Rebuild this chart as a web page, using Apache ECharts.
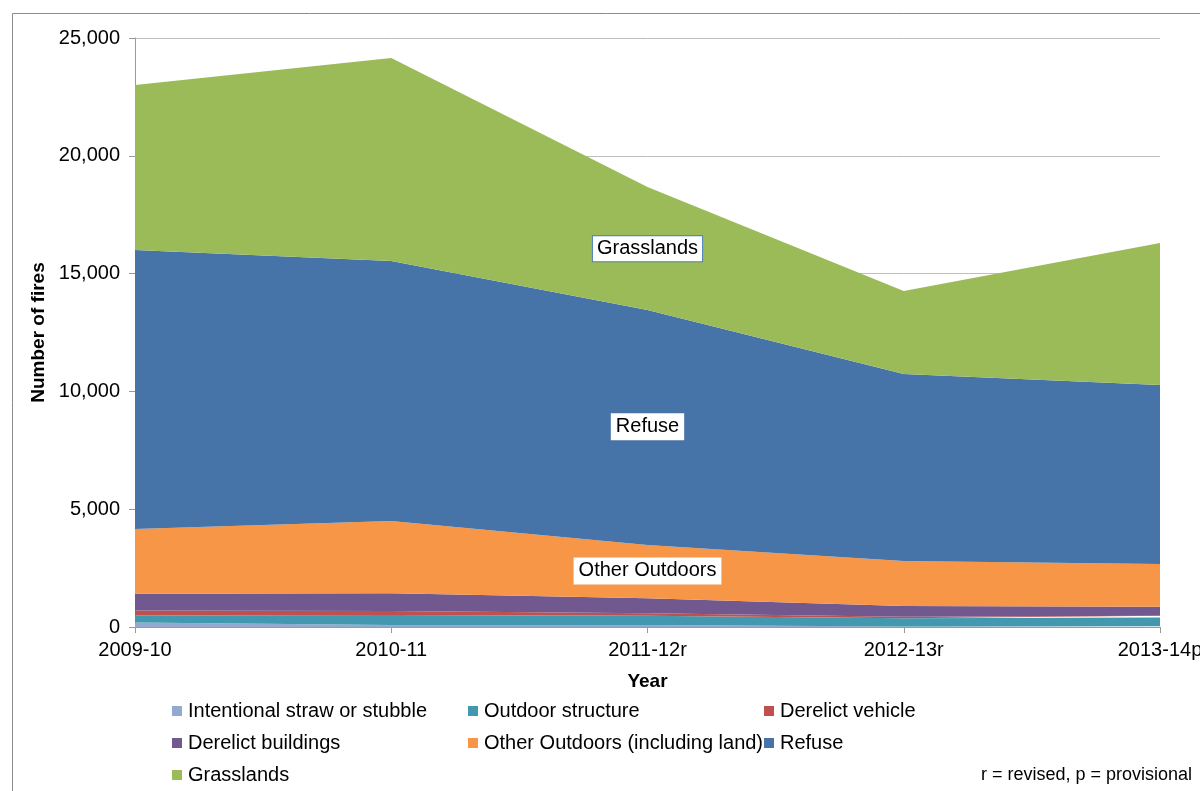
<!DOCTYPE html>
<html>
<head>
<meta charset="utf-8">
<script src="https://cdn.jsdelivr.net/npm/echarts@6/dist/echarts.min.js"></script>
<style>
  html, body { margin: 0; padding: 0; background: #fff; }
  #chart { width: 1200px; height: 791px; }
</style>
</head>
<body>
<div id="chart"></div>
<script>
// years on the x axis
const years = ['2009-10', '2010-11', '2011-12r', '2012-13r', '2013-14p']

// number of fires per type
const straw = [195, 85, 85, 25, 30]
const outdoorStructure = [295, 425, 395, 345, 370]
const derelictVehicle = [215, 170, 100, 70, 80]
const derelictBuildings = [710, 750, 640, 450, 380]
const otherOutdoors = [2745, 3070, 2260, 1910, 1810]
const refuse = [11840, 11035, 9975, 7940, 7600]
const grasslands = [7000, 8615, 5220, 3520, 6030]

const seriesNames = [
  'Intentional straw or stubble', 'Outdoor structure', 'Derelict vehicle',
  'Derelict buildings', 'Other Outdoors (including land)', 'Refuse', 'Grasslands',
]
const seriesData = [straw, outdoorStructure, derelictVehicle, derelictBuildings, otherOutdoors, refuse, grasslands]
const colors = ['#93a9cf', '#4198af', '#c0504d', '#71588f', '#f79646', '#4673a8', '#9bbb59']

// in-chart labels: [series index, category, y value, text]
const areaLabels = [
  [6, '2011-12r', 16050, 'Grasslands'],
  [5, '2011-12r', 8500, 'Refuse'],
  [4, '2011-12r', 2380, 'Other Outdoors'],
]

const font = 'Liberation Sans, Arial, sans-serif'
const chart = echarts.init(document.getElementById('chart'))

const legendPos = [[167, 696], [463, 696], [759, 696], [167, 728], [463, 728], [759, 728], [167, 760]]

const series = seriesNames.map((name, i) => {
  const s = {
    name,
    type: 'line',
    stack: 'total',
    data: seriesData[i],
    symbol: 'none',
    lineStyle: { width: 0 },
    areaStyle: { color: colors[i], opacity: 1 },
    itemStyle: { color: colors[i] },
    emphasis: { disabled: true },
    z: 2,
  }
  const lab = areaLabels.find(l => l[0] === i)
  if (lab) {
    s.markPoint = {
      symbol: 'rect',
      symbolSize: 1,
      itemStyle: { color: 'transparent' },
      data: [{
        coord: [lab[1], lab[2]],
        label: {
          show: true,
          position: 'inside',
          formatter: lab[3],
          color: '#000',
          fontFamily: font,
          fontSize: 20,
          backgroundColor: '#fff',
          borderColor: i === 6 ? '#4a7ebb' : '#fff',
          borderWidth: 1,
          padding: [3, 4, 2, 4],
        },
      }],
      z: 10,
    }
  }
  return s
})

chart.setOption({
  animation: false,
  grid: { left: 135, right: 40, top: 38, bottom: 164, containLabel: false, outerBoundsMode: 'none' },
  legend: seriesNames.map((name, i) => ({
    data: [name],
    left: legendPos[i][0],
    top: legendPos[i][1],
    icon: 'rect',
    itemWidth: 10,
    itemHeight: 10,
    itemGap: 4,
    selectedMode: false,
    textStyle: { fontFamily: font, fontSize: 20, color: '#000', padding: [0, 0, 0, 1] },
  })),
  xAxis: {
    type: 'category',
    data: years,
    boundaryGap: false,
    name: 'Year',
    nameLocation: 'middle',
    nameGap: 45,
    nameTextStyle: { fontFamily: font, fontSize: 19, fontWeight: 'bold', color: '#000' },
    axisLine: { lineStyle: { color: '#9a9a9a' } },
    axisTick: { show: true, length: 6, lineStyle: { color: '#9a9a9a' } },
    axisLabel: { fontFamily: font, fontSize: 20, color: '#000', margin: 13, showMaxLabel: true, hideOverlap: false },
    z: 5,
  },
  yAxis: {
    type: 'value',
    min: 0,
    max: 25000,
    interval: 5000,
    name: 'Number of fires',
    nameLocation: 'middle',
    nameGap: 78,
    nameTextStyle: { fontFamily: font, fontSize: 19, fontWeight: 'bold', color: '#000' },
    axisLine: { show: true, lineStyle: { color: '#9a9a9a' } },
    axisTick: { show: true, length: 6, lineStyle: { color: '#9a9a9a' } },
    axisLabel: {
      fontFamily: font, fontSize: 20, color: '#000', margin: 15,
      formatter: v => v.toLocaleString('en-GB'),
    },
    splitLine: { lineStyle: { color: '#bfbfbf' } },
  },
  graphic: [
    {
      type: 'rect',
      left: 10, top: 11,
      shape: { width: 1220, height: 800 },
      style: { fill: 'none', stroke: '#8c8c8c', lineWidth: 1 },
      silent: true,
    },
    {
      type: 'text',
      right: 8, top: 766,
      style: { text: 'r = revised, p = provisional', font: '18px ' + font, fill: '#000' },
    },
  ],
  series,
})
</script>
</body>
</html>
